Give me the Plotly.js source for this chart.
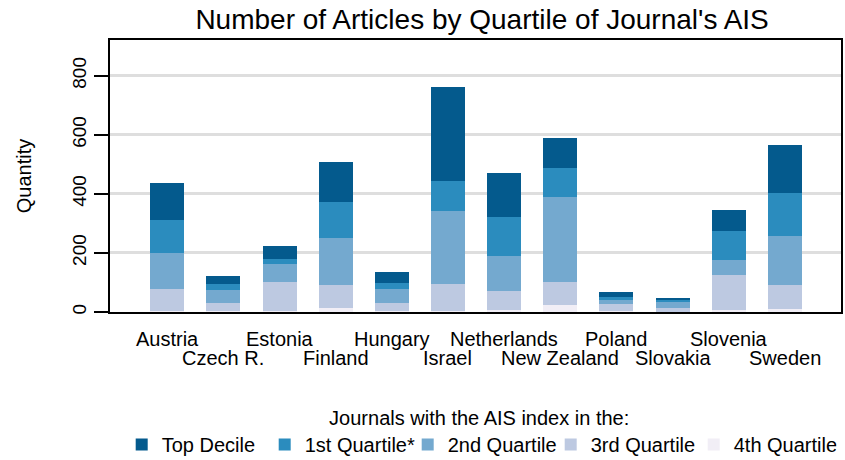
<!DOCTYPE html>
<html>
<head>
<meta charset="utf-8">
<script src="https://cdn.plot.ly/plotly-3.0.1.min.js"></script>
<style>html,body{margin:0;padding:0;background:#fff;}#chart{width:845px;height:460px;}</style>
</head>
<body>
<div id="chart"></div>
<script>
const countries = ["Austria","Czech R.","Estonia","Finland","Hungary","Israel","Netherlands","New Zealand","Poland","Slovakia","Slovenia","Sweden"];
const q4th   = [3, 2, 2, 15, 2, 3, 8, 24, 2, 1, 8, 11];
const q3rd   = [76, 28, 99, 76, 28, 92, 64, 77, 24, 14, 117, 80];
const q2nd   = [121, 45, 61, 158, 49, 246, 116, 289, 16, 18, 51, 166];
const q1st   = [112, 20, 18, 124, 19, 103, 132, 96, 10, 8, 98, 145];
const topDec = [124, 26, 45, 135, 37, 317, 150, 104, 16, 7, 72, 162];
const seriesNames = ["4th Quartile","3rd Quartile","2nd Quartile","1st Quartile*","Top Decile"];
const seriesColors = ["#f1eef6","#bdc9e1","#74a9cf","#2b8cbe","#045a8d"];
const seriesValues = [q4th, q3rd, q2nd, q1st, topDec];
const yTicks = [0, 200, 400, 600, 800];

const FONT = "Liberation Sans, Arial, Helvetica, sans-serif";

const traces = seriesValues.map((vals, i) => ({
  type: "bar",
  x: countries,
  y: vals,
  name: seriesNames[i],
  marker: {color: seriesColors[i], line: {width: 0}},
  hoverinfo: "x+y+name"
}));

const annotations = countries.map((c, i) => ({
  x: c, xref: "x",
  y: i % 2 === 0 ? -0.099 : -0.169, yref: "paper",
  text: c, showarrow: false,
  xanchor: "center", yanchor: "middle",
  font: {family: FONT, size: 20, color: "#000"}
}));

const layout = {
  width: 845, height: 460,
  margin: {l: 110, r: 4, t: 40, b: 148, autoexpand: false},
  paper_bgcolor: "#fff", plot_bgcolor: "#fff",
  barmode: "stack",
  bargap: 0.394,
  font: {family: FONT, size: 20, color: "#000"},
  title: {
    text: "Number of Articles by Quartile of Journal's AIS",
    font: {family: FONT, size: 28, color: "#000"},
    xref: "paper", x: 0.509, xanchor: "center",
    yref: "container", y: 0.98, yanchor: "top"
  },
  xaxis: {
    type: "category",
    range: [-1.02, 12.0],
    showticklabels: false,
    ticks: "",
    showgrid: false,
    showline: true, linecolor: "#000", linewidth: 2, mirror: true,
    zeroline: false,
    fixedrange: true
  },
  yaxis: {
    range: [0, 921],
    tickvals: yTicks,
    ticktext: yTicks.map(String),
    tickangle: -90,
    ticks: "outside", ticklen: 14, tickwidth: 2, tickcolor: "#000",
    tickfont: {family: FONT, size: 19, color: "#000"},
    showgrid: true, gridcolor: "#dedede", gridwidth: 3,
    showline: true, linecolor: "#000", linewidth: 2, mirror: true,
    zeroline: false,
    title: {text: "Quantity", font: {family: FONT, size: 20, color: "#000"}, standoff: 32},
    fixedrange: true
  },
  showlegend: true,
  legend: {
    orientation: "h",
    traceorder: "reversed",
    x: 0.016, xanchor: "left",
    y: -0.32, yanchor: "top",
    entrywidth: 98,
    itemclick: false,
    font: {family: FONT, size: 20, color: "#000"},
    title: {text: "Journals with the AIS index in the:", side: "top center", font: {family: FONT, size: 20, color: "#000"}},
    bgcolor: "rgba(0,0,0,0)"
  },
  annotations: annotations
};

Plotly.newPlot("chart", traces, layout, {displayModeBar: false, staticPlot: true});
</script>
</body>
</html>
